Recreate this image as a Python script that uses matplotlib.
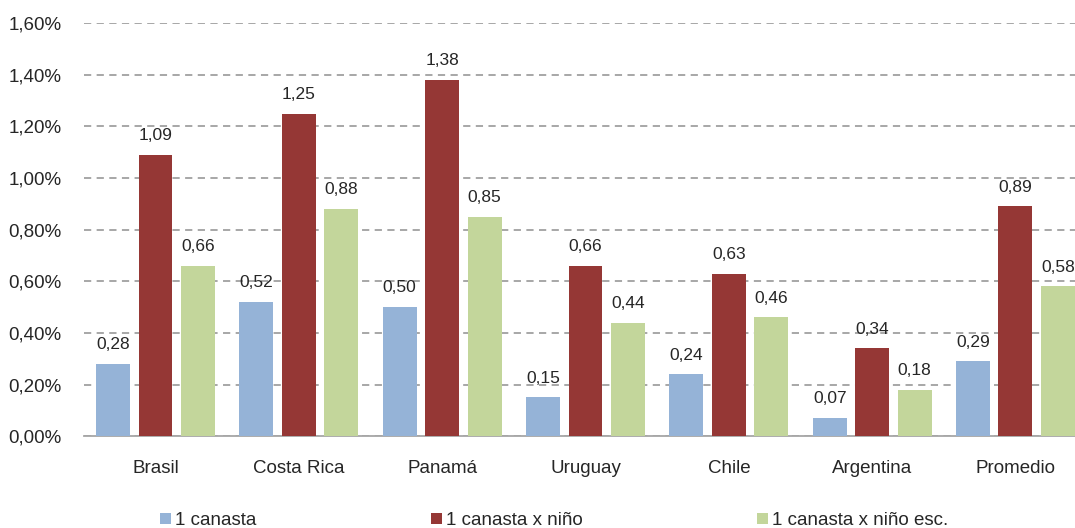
import matplotlib.pyplot as plt
import numpy as np
from matplotlib.ticker import FuncFormatter

plt.rcParams['font.family'] = ['Liberation Sans', 'DejaVu Sans']

# datos
paises = ['Brasil', 'Costa Rica', 'Panamá', 'Uruguay', 'Chile', 'Argentina', 'Promedio']
canasta = [0.28, 0.52, 0.50, 0.15, 0.24, 0.07, 0.29]
canasta_nino = [1.09, 1.25, 1.38, 0.66, 0.63, 0.34, 0.89]
canasta_nino_esc = [0.66, 0.88, 0.85, 0.44, 0.46, 0.18, 0.58]
series = ['1 canasta', '1 canasta x niño', '1 canasta x niño esc.']
colores = ['#95B3D7', '#953735', '#C3D69B']

fig = plt.figure(figsize=(10.75, 5.28), dpi=100)
ax = fig.add_axes([0.078, 0.174, 0.9333, 0.782])

x = np.arange(len(paises))
ancho = 0.237
desp = 0.296
txt = '#262626'
for k, vals in enumerate([canasta, canasta_nino, canasta_nino_esc]):
    pos = x + (k - 1) * desp
    ax.bar(pos, vals, width=ancho, color=colores[k], label=series[k], zorder=3)
    for p, v in zip(pos, vals):
        ax.text(p, v + 0.045, ('%.2f' % v).replace('.', ','), ha='center', va='bottom',
                fontsize=12.5, color=txt)

ax.set_xlim(-0.5, len(paises) - 0.5)
ax.set_ylim(0, 1.6)
ax.set_yticks(np.arange(0, 1.61, 0.2))
ax.yaxis.set_major_formatter(FuncFormatter(lambda v, p: ('%.2f%%' % v).replace('.', ',')))
ax.yaxis.grid(True, linestyle=(0, (4, 3)), color='#A0A0A0', linewidth=1.3, zorder=0)
ax.set_xticks(x)
ax.set_xticklabels(paises)
ax.tick_params(axis='x', length=0, pad=17, labelsize=13.5, labelcolor=txt)
ax.tick_params(axis='y', length=0, pad=16, labelsize=13.5, labelcolor=txt)
for s in ['top', 'right', 'left']:
    ax.spines[s].set_visible(False)
ax.spines['bottom'].set_color('#A6A6A6')
ax.spines['bottom'].set_linewidth(1.3)

h, l = ax.get_legend_handles_labels()
fig.legend(h, l, loc='center left', bbox_to_anchor=(0.142, 0.014), ncol=3, frameon=False,
           fontsize=13.5, handlelength=0.6, handleheight=0.6, handletextpad=0.2,
           columnspacing=9.3, labelcolor=txt, borderaxespad=0)

fig.savefig('out.png', dpi=100)
